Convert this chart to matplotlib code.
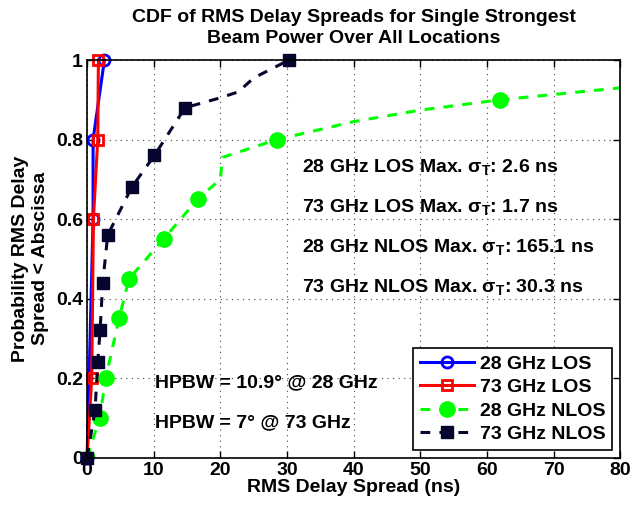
import matplotlib
matplotlib.use('Agg')
import matplotlib.pyplot as plt

los28_x = [0, 0.9, 0.9, 2.6]
los28_y = [0, 0.6, 0.8, 1.0]

los73_x = [0, 0.7, 0.95, 1.6, 1.7]
los73_y = [0, 0.2, 0.6, 0.8, 1.0]

nlos28_x = [0, 1.9, 2.8, 4.8, 6.3, 11.5, 16.6, 20.0, 20.3, 28.5, 40, 50, 62, 80, 165.1]
nlos28_y = [0, 0.1, 0.2, 0.35, 0.45, 0.55, 0.65, 0.70, 0.755, 0.80, 0.845, 0.874, 0.90, 0.93, 1.0]
nlos28_marks = [0, 1, 2, 3, 4, 5, 6, 9, 12]

nlos73_x = [0, 1.2, 1.6, 1.95, 2.35, 3.1, 6.7, 10.1, 14.7, 20.0, 22.7, 25.0, 30.3]
nlos73_y = [0, 0.12, 0.24, 0.32, 0.44, 0.56, 0.68, 0.76, 0.88, 0.905, 0.92, 0.955, 1.0]
nlos73_marks = [0, 1, 2, 3, 4, 5, 6, 7, 8, 12]

max_labels = ['28 GHz LOS Max. $\\sigma_\\mathrm{T}$: 2.6 ns',
              '73 GHz LOS Max. $\\sigma_\\mathrm{T}$: 1.7 ns',
              '28 GHz NLOS Max. $\\sigma_\\mathrm{T}$: 165.1 ns',
              '73 GHz NLOS Max. $\\sigma_\\mathrm{T}$: 30.3 ns']
max_label_y = [0.73, 0.63, 0.53, 0.43]

hpbw_labels = ['HPBW = 10.9° @ 28 GHz', 'HPBW = 7° @ 73 GHz']
hpbw_y = [0.187, 0.087]

navy = '#05052e'


def main():
    plt.rcParams['font.family'] = 'Liberation Sans'
    plt.rcParams['font.weight'] = 'bold'
    plt.rcParams['mathtext.fontset'] = 'custom'
    plt.rcParams['mathtext.rm'] = 'Liberation Sans:bold'
    plt.rcParams['mathtext.it'] = 'Liberation Sans'

    fig = plt.figure(figsize=(6.31, 5.13), dpi=100)
    ax = fig.add_axes([0.138, 0.108, 0.845, 0.775])

    ax.plot(los28_x, los28_y, '-', color='#0000ff', lw=2.2, marker='o',
            ms=8, mfc='none', mew=2, label='28 GHz LOS', clip_on=False)
    ax.plot(los73_x, los73_y, '-', color='#ff0000', lw=2.2, marker='s',
            ms=7, mfc='none', mew=2, label='73 GHz LOS', clip_on=False)
    ax.plot(nlos28_x, nlos28_y, '--', color='#00ff00', lw=2.2, dashes=(3.2, 3.0),
            marker='o', ms=11, markevery=nlos28_marks, label='28 GHz NLOS')
    ax.plot(nlos73_x, nlos73_y, '--', color=navy, lw=2.2, dashes=(3.2, 3.0),
            marker='s', ms=9, markevery=nlos73_marks, label='73 GHz NLOS',
            clip_on=False)

    for txt, yy in zip(max_labels, max_label_y):
        ax.text(32.2, yy, txt, fontsize=14, fontweight='bold', va='center')
    for txt, yy in zip(hpbw_labels, hpbw_y):
        ax.text(10.2, yy, txt, fontsize=14, fontweight='bold', va='center')

    ax.set_xlim(0, 80)
    ax.set_ylim(0, 1)
    ax.set_xticks(range(0, 81, 10))
    ax.set_yticks([0, 0.2, 0.4, 0.6, 0.8, 1.0])
    ax.set_yticklabels(['0', '0.2', '0.4', '0.6', '0.8', '1'])
    ax.tick_params(direction='in', top=True, right=True, labelsize=14,
                   length=5, width=1, pad=3)
    for s in ax.spines.values():
        s.set_linewidth(1.2)
    ax.grid(True, linestyle=(0, (1, 4)), color='#444444', lw=0.8)

    ax.set_xlabel('RMS Delay Spread (ns)', fontsize=14, fontweight='bold', labelpad=0)
    ax.set_ylabel('Probability RMS Delay\nSpread < Abscissa', fontsize=14,
                  fontweight='bold', labelpad=5, linespacing=1.25)
    ax.set_title('CDF of RMS Delay Spreads for Single Strongest\nBeam Power Over All Locations',
                 fontsize=14, fontweight='bold', pad=12, linespacing=1.3)

    leg = ax.legend(loc='lower right', fontsize=14, fancybox=False, framealpha=1,
                    edgecolor='black', handlelength=2.8, borderaxespad=0.4,
                    labelspacing=0.3, handletextpad=0.3, borderpad=0.35)
    leg.get_frame().set_linewidth(1.2)
    for t in leg.get_texts():
        t.set_fontweight('bold')

    fig.savefig('out.png', dpi=100)


if __name__ == '__main__':
    main()
